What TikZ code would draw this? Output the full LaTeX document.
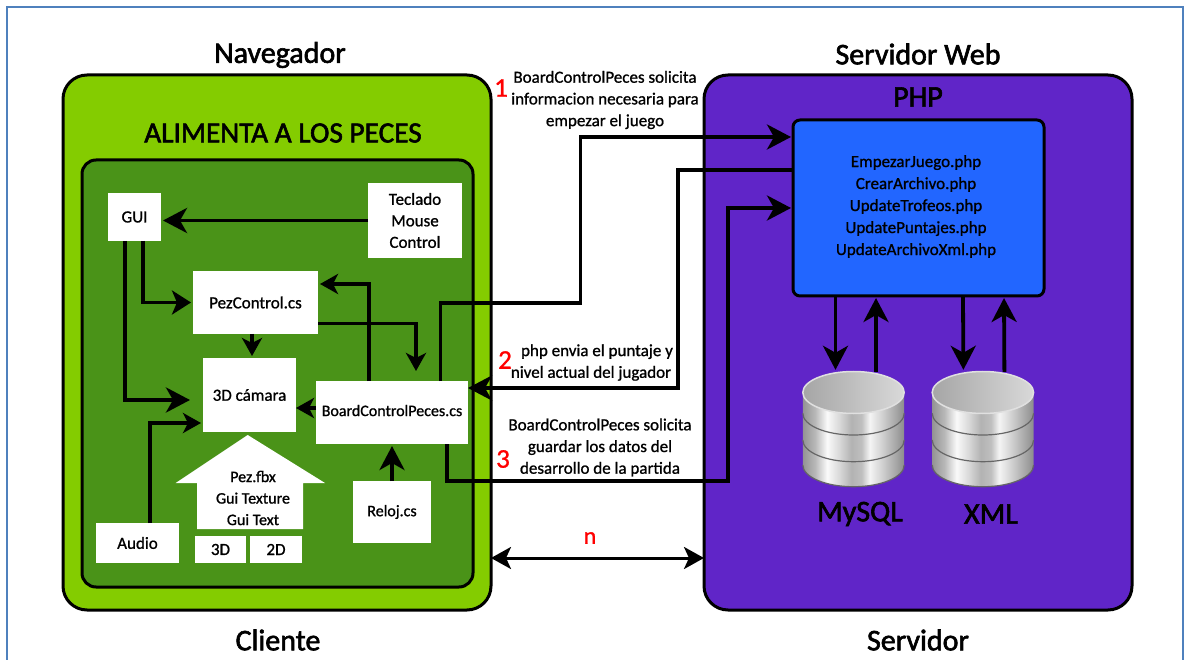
\documentclass[tikz,border=0pt]{standalone}
\usepackage{fontspec}
\setmainfont{Carlito}[FakeBold=1]
\newfontfamily\heavyfont{Carlito}[FakeBold=2]
\usetikzlibrary{positioning, arrows.meta}
\definecolor{framecol}{HTML}{4F81BD}
\definecolor{limecol}{HTML}{84CC00}
\definecolor{leafcol}{HTML}{4A9318}
\definecolor{violetcol}{HTML}{6025C8}
\definecolor{phpcol}{HTML}{2266FF}
\pgfdeclarehorizontalshading{metal}{100bp}{color(0bp)=(black!42); color(25bp)=(black!42); color(31bp)=(black!28); color(37bp)=(black!2); color(43bp)=(black!15); color(49bp)=(black!30); color(54bp)=(black!25); color(58bp)=(black!4); color(64bp)=(black!18); color(75bp)=(black!45); color(100bp)=(black!45)}
\tikzset{
panel/.style={draw=black, line width=3pt, rounded corners=24pt, inner sep=0pt, outer sep=0pt}, % the two big panels
block/.style={fill=white, inner sep=0pt, outer sep=0pt, align=center, font=\fontsize{17}{21.5}\selectfont}, % white boxes
title/.style={font=\heavyfont\fontsize{30}{32}\selectfont},
note/.style={align=center, inner sep=0pt, font=\fontsize{17}{21.7}\selectfont},
step num/.style={text=red, inner sep=0pt, font=\fontsize{27}{27}\selectfont},
link/.style={line width=3.8pt, -{Stealth[length=24pt, width=25pt, inset=7pt]}, shorten >=2pt},
small link/.style={line width=3.5pt, -{Stealth[length=18pt, width=20pt, inset=5pt]}, shorten >=2pt},
}
% one stack of three metal discs, drawn round a named node
\newcommand{\dbstack}[1]{
  \begin{scope}[shift=(#1.center), y=1pt]
    \foreach \ytop/\ybot in {-10/-35.5, 16/-10.5, 37/16.2}{
      \shade[shading=metal] (-50.7pt,\ytop pt) -- (-50.7pt,\ybot pt) arc[start angle=180, end angle=360, x radius=50.7pt, y radius=21.7pt] -- (50.7pt,\ytop pt) -- cycle;
      \draw[black!60, line width=1.2pt] (-50.7pt,\ybot pt) arc[start angle=180, end angle=360, x radius=50.7pt, y radius=21.7pt];
    }
    \shade[left color=black!35, right color=black!15, draw=black!12, line width=1.5pt] (0pt,37pt) ellipse[x radius=50.7pt, y radius=21pt];
  \end{scope}
}

\begin{document}
\begin{tikzpicture}[x=1pt, y=-1pt]
  \useasboundingbox (0,0) rectangle (1189,660);
  \fill[white] (0,0) rectangle (1189,660);
  \draw[framecol, line width=2.5pt] (7,7) rectangle (1183,680);

  % panels
  \node[panel, fill=limecol, minimum width=428pt, minimum height=535pt] (navegador) at (277,342.5) {};
  \node[panel, fill=violetcol, minimum width=428pt, minimum height=535pt, right=213pt of navegador] (servidor) {};
  \node[panel, fill=leafcol, rounded corners=14pt, minimum width=391pt, minimum height=427pt] (juego) at (277.5,373.5) {};
  \node[panel, fill=phpcol, rounded corners=7pt, minimum width=251pt, minimum height=176pt] (php) at (918.5,208) {};

  % titles
  \node[title] (tnav) at (280,55) {Navegador};
  \node[title] (tweb) at (918,54) {Servidor Web};
  \node[title] (tcli) at (278,640) {Cliente};
  \node[title] (tser) at (918,640) {Servidor};
  \node[title] (tphp) at (918,97) {PHP};
  \node[title, font=\heavyfont\fontsize{29.3}{32}\selectfont] (talim) at (283,133) {ALIMENTA A LOS PECES};
  \node[note, font=\fontsize{17}{22}\selectfont] (archivos) at (916,206.5) {EmpezarJuego.php\\CrearArchivo.php\\UpdateTrofeos.php\\UpdatePuntajes.php\\UpdateArchivoXml.php};

  % white boxes
  \node[block, minimum width=53pt, minimum height=48pt] (gui) at (134.5,217) {GUI};
  \node[block, minimum width=94pt, minimum height=75pt, right=207pt of gui, yshift=-3.5pt] (teclado) {Teclado\\Mouse\\Control};
  \node[block, minimum width=125pt, minimum height=63pt, below right=30pt and 32pt of gui] (pez) {PezControl.cs};
  \node[block, minimum width=93pt, minimum height=74pt, below=24pt of pez, xshift=-6pt] (camara) {3D cámara};
  \node[block, font=\fontsize{16}{21.5}\selectfont, minimum width=152pt, minimum height=63pt, right=20pt of camara, yshift=-17.5pt] (board) {\raisebox{4pt}{BoardControlPeces.cs}};
  \node[block, font=\fontsize{16}{21.5}\selectfont, minimum width=78pt, minimum height=62pt, below=37pt of board] (reloj) {Reloj.cs};
  \node[block, minimum width=83pt, minimum height=40pt, below=282pt of gui, xshift=3pt] (audio) {Audio};
  \fill[white] (247.7,435) -- (325,483) -- (303,483) -- (303,529) -- (197,529) -- (197,483) -- (175.7,483) -- cycle;
  \node[note, font=\fontsize{16}{21.5}\selectfont] (texturas) at (253,498) {Pez.fbx\\Gui Texture\\Gui Text};
  \node[block, minimum width=51pt, minimum height=27pt] (tresd) at (220.5,549.5) {3D};
  \node[block, minimum width=52pt, minimum height=27pt, right=4pt of tresd] (dosd) {2D};

  % databases
  \node[minimum width=101pt, minimum height=115pt, inner sep=0pt] (mysql) at (853.5,429.5) {};
  \node[minimum width=101pt, minimum height=115pt, inner sep=0pt, right=28pt of mysql] (xml) {};
  \dbstack{mysql}
  \dbstack{xml}
  \node[title] (tmysql) at (860,514) {MySQL};
  \node[title] (txml) at (991,514) {XML};

  % connectors inside the game
  \draw[link] (teclado.west) -- (teclado.west -| gui.east);
  \draw[small link, -{Stealth[length=19pt, width=24pt, inset=5pt]}] ([xshift=8.5pt]gui.south) |- (pez.west);
  \draw[link, shorten >=13pt] ([xshift=-9.5pt]gui.south) |- ([yshift=-5pt]camara.west);
  \draw[small link] ([xshift=12.5pt]audio.north) |- ([yshift=-28pt]camara.west);
  \draw[small link] ([xshift=-3.5pt]pez.south) -- ([xshift=2.5pt]camara.north);
  \draw[small link, shorten >=0pt] ([yshift=4.5pt]board.west) -- ([yshift=-13pt]camara.east);
  \draw[small link] ([xshift=-23pt]board.north) |- ([yshift=18.5pt]pez.east);
  \draw[small link] ([yshift=-21pt]pez.east) -| ([xshift=24pt, yshift=8pt]board.north);
  \draw[link] (reloj.north) -- (board.south);

  % connectors to the server
  \draw[link] ([xshift=48.5pt]board.north) -- ++(0,-78) -- ++(140,0) |- ([yshift=71pt]php.west);
  \draw[link, shorten >=0pt] ([yshift=38pt]php.west) -- ++(-115,0) |- ([yshift=24.5pt]board.east);
  \draw[link] ([xshift=55pt]board.south) -- ++(0,37) -- ++(281,0) |- (php.west);
  \draw[line width=3pt, {Stealth[length=20pt, width=22pt, inset=5pt]}-{Stealth[length=20pt, width=22pt, inset=5pt]}] (navegador.east |- 0,558) -- (servidor.west |- 0,558);

  % connectors to the databases
  \draw[link] ([xshift=-83pt]php.south) -- ([xshift=-18pt]mysql.north);
  \draw[link] ([xshift=22.5pt]mysql.north) -- ([xshift=-42.5pt]php.south);
  \draw[link] ([xshift=44.5pt]php.south) -- ([xshift=-19.5pt]xml.north);
  \draw[link] ([xshift=21.5pt]xml.north) -- ([xshift=85.5pt]php.south);

  % notes
  \node[step num] (uno) at (501,88) {1};
  \node[note] (nuno) at (605,100) {BoardControlPeces solicita\\informacion necesaria para\\empezar el juego};
  \node[step num] (dos) at (505,360) {2};
  \node[note] (ndos) at (594,362.5) {\hspace*{6pt}php envia el puntaje y\\nivel actual del jugador\hspace*{6pt}};
  \node[step num] (tres) at (503,459) {3};
  \node[note] (ntres) at (600,447.5) {BoardControlPeces solicita\\guardar los datos del\\desarrollo de la partida};
  \node[step num, font=\fontsize{24}{24}\selectfont] (nn) at (590,538) {n};
\end{tikzpicture}
\end{document}
